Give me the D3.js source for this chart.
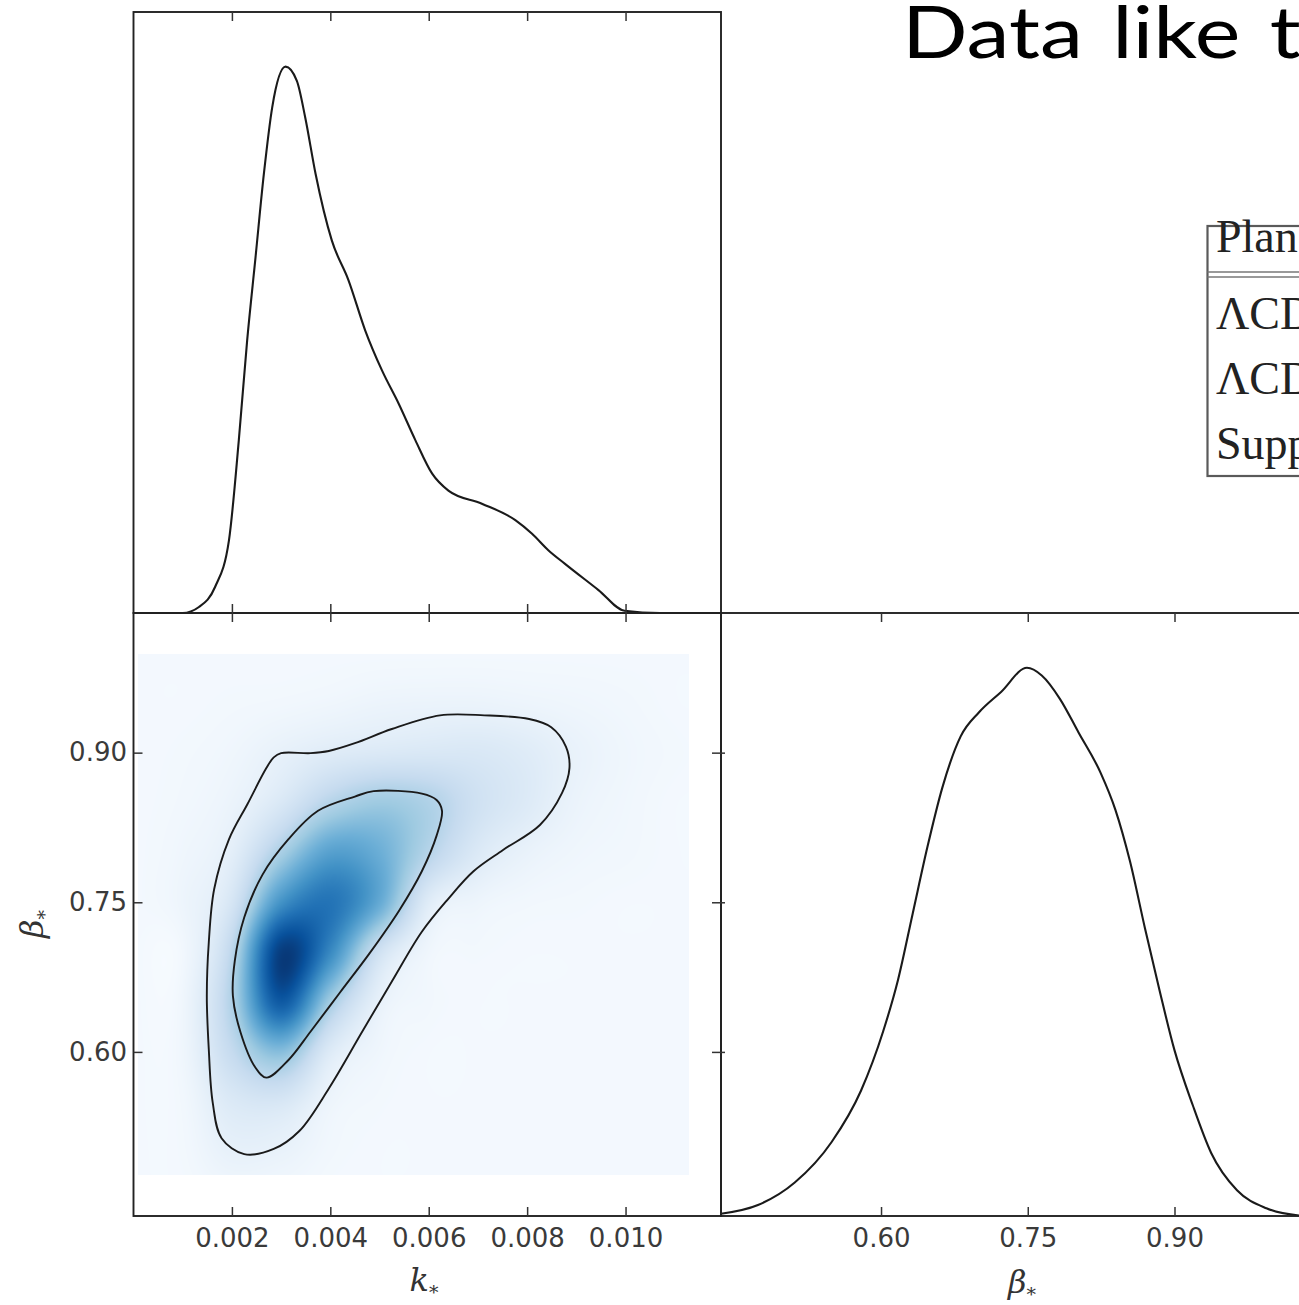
<!DOCTYPE html>
<html><head><meta charset="utf-8">
<script src="https://cdn.jsdelivr.net/npm/d3@7"></script>
<style>html,body{margin:0;padding:0;background:#fff;overflow:hidden}svg{display:block}</style>
</head><body>
<svg id="c" width="1299" height="1305"></svg>
<script>
// ---------------- data ----------------
const kTicks = [0.002, 0.004, 0.006, 0.008, 0.010];
const betaTicks = [0.60, 0.75, 0.90];
const kDomain = [0, 0.01194];
const betaDomain = [0.4355, 1.040];
const betaDomainX = [0.4364, 1.0375];

// 1D marginal of k*
const kMargK = [0, 0.0010, 0.00133, 0.00166, 0.00194, 0.00214, 0.00231, 0.00248, 0.00265, 0.00282, 0.00309, 0.00332, 0.00349, 0.00370, 0.00403, 0.00437, 0.00471, 0.00505, 0.00539, 0.00573, 0.00607, 0.00640, 0.00708, 0.00776, 0.00810, 0.00843, 0.00877, 0.00945, 0.00998, 0.0107, 0.01194];
const kMargD = [0, 0, 0.011, 0.048, 0.133, 0.316, 0.499, 0.651, 0.804, 0.926, 1.0, 0.974, 0.907, 0.804, 0.682, 0.609, 0.517, 0.444, 0.383, 0.316, 0.255, 0.224, 0.200, 0.170, 0.145, 0.115, 0.090, 0.042, 0.004, 0, 0];

// 1D marginal of beta*
const bMargB = [0.4364, 0.4742, 0.5118, 0.5495, 0.5796, 0.6022, 0.6174, 0.6324, 0.6474, 0.6626, 0.6814, 0.7002, 0.7227, 0.7492, 0.7643, 0.7830, 0.8019, 0.8246, 0.8396, 0.8545, 0.8698, 0.8848, 0.8999, 0.9187, 0.9375, 0.9639, 0.9940, 1.0273, 1.0375];
const bMargD = [0.004, 0.020, 0.061, 0.135, 0.229, 0.337, 0.431, 0.552, 0.673, 0.781, 0.875, 0.919, 0.956, 1.0, 0.986, 0.943, 0.882, 0.808, 0.741, 0.647, 0.525, 0.411, 0.303, 0.202, 0.115, 0.047, 0.014, 0.001, 0];

// 2D density grid (rows: beta, columns: k)
const gridK = [0, 0.001, 0.002, 0.003, 0.004, 0.005, 0.006, 0.007, 0.008, 0.009, 0.010, 0.011, 0.012];
const gridBeta = [0.45, 0.50, 0.55, 0.60, 0.65, 0.70, 0.75, 0.80, 0.85, 0.90, 0.95, 1.00];
const densityGrid = [
  [0.02,0.02,0.03,0.03,0.02,0.02,0.02,0.02,0.02,0.02,0.02,0.02,0.02],
  [0.02,0.025,0.08,0.07,0.03,0.02,0.02,0.02,0.02,0.02,0.02,0.02,0.02],
  [0.02,0.03,0.14,0.16,0.05,0.025,0.02,0.02,0.02,0.02,0.02,0.02,0.02],
  [0.02,0.04,0.25,0.43,0.13,0.04,0.02,0.02,0.02,0.02,0.02,0.02,0.02],
  [0.02,0.04,0.32,0.84,0.36,0.08,0.03,0.02,0.02,0.02,0.02,0.02,0.02],
  [0.02,0.03,0.28,0.95,0.66,0.20,0.04,0.025,0.02,0.02,0.02,0.02,0.02],
  [0.02,0.05,0.17,0.62,0.74,0.52,0.12,0.05,0.03,0.025,0.02,0.02,0.02],
  [0.02,0.04,0.10,0.34,0.56,0.50,0.30,0.14,0.07,0.04,0.03,0.02,0.02],
  [0.02,0.03,0.06,0.15,0.30,0.37,0.32,0.20,0.13,0.06,0.035,0.02,0.02],
  [0.02,0.025,0.04,0.08,0.12,0.14,0.15,0.15,0.12,0.07,0.04,0.025,0.02],
  [0.02,0.02,0.025,0.03,0.04,0.055,0.06,0.06,0.05,0.04,0.03,0.02,0.02],
  [0.02,0.02,0.02,0.02,0.02,0.02,0.02,0.02,0.02,0.02,0.02,0.02,0.02]
];
const heatKExtent = [0.00009, 0.01128];
const heatBetaExtent = [0.477, 0.999];

// contours (k, beta)
const outerK = [0.00300,0.00360,0.00397,0.00450,0.00525,0.00623,0.00713,0.00804,0.00849,0.00879,0.00886,0.00871,0.00826,0.00751,0.00691,0.00638,0.00586,0.00525,0.00465,0.00397,0.00337,0.00285,0.00225,0.00179,0.00161,0.00153,0.00149,0.00153,0.00164,0.00194,0.00232,0.00270,0.00285];
const outerB = [0.8995,0.8995,0.9017,0.9095,0.9237,0.9374,0.9374,0.9337,0.9255,0.9059,0.8845,0.8596,0.8275,0.8024,0.7811,0.7525,0.7204,0.6705,0.6205,0.5634,0.5207,0.5027,0.4975,0.5135,0.5492,0.6026,0.6561,0.7097,0.7633,0.8131,0.8488,0.8845,0.8953];
const innerK = [0.00450,0.00488,0.00586,0.00616,0.00627,0.00616,0.00586,0.00540,0.00480,0.00420,0.00360,0.00315,0.00270,0.00247,0.00217,0.00202,0.00206,0.00225,0.00262,0.00315,0.00375];
const innerB = [0.8560,0.8614,0.8589,0.8525,0.8417,0.8168,0.7811,0.7418,0.6990,0.6598,0.6205,0.5919,0.5742,0.5849,0.6205,0.6562,0.6918,0.7347,0.7775,0.8132,0.8417];

const blues = ["#f7fbff","#deebf7","#c6dbef","#9ecae1","#6baed6","#4292c6","#2171b5","#08519c","#08306b"];

const titleText = "Data like this";
const legendHeader = "Planck 2015 data";
const legendRows = ["ΛCDM", "ΛCDM + running", "Suppression"];

// ---------------- layout ----------------
const L = 133.5, M = 721, R = 1309, T = 12, H = 613, B = 1216;
const svg = d3.select("#c");

const xK = d3.scaleLinear().domain(kDomain).range([L, M]);
const yB = d3.scaleLinear().domain(betaDomain).range([B, H]);
const xB = d3.scaleLinear().domain(betaDomainX).range([M, R]);
const yKd = d3.scaleLinear().domain([0, 1.1]).range([H, T]);
const yBd = d3.scaleLinear().domain([0, 1.1]).range([B, H]);

// ---------------- heatmap ----------------
const color = d3.scaleLinear().domain(d3.range(blues.length).map(i => i / (blues.length - 1))).range(blues).clamp(true);
function cr(p0, p1, p2, p3, t) {
  return p1 + 0.5 * t * (p2 - p0 + t * (2 * p0 - 5 * p1 + 4 * p2 - p3 + t * (3 * (p1 - p2) + p3 - p0)));
}
function gv(i, j) {
  i = Math.max(0, Math.min(gridK.length - 1, i));
  j = Math.max(0, Math.min(gridBeta.length - 1, j));
  return densityGrid[j][i];
}
function dens(k, b) {
  const fi = (k - gridK[0]) / (gridK[1] - gridK[0]);
  const fj = (b - gridBeta[0]) / (gridBeta[1] - gridBeta[0]);
  const i = Math.floor(fi), j = Math.floor(fj), tx = fi - i, ty = fj - j;
  const rows = [];
  for (let m = -1; m <= 2; m++) rows.push(cr(gv(i - 1, j + m), gv(i, j + m), gv(i + 1, j + m), gv(i + 2, j + m), tx));
  return cr(rows[0], rows[1], rows[2], rows[3], ty);
}
const hx0 = Math.round(xK(heatKExtent[0])), hx1 = Math.round(xK(heatKExtent[1]));
const hy0 = Math.round(yB(heatBetaExtent[1])), hy1 = Math.round(yB(heatBetaExtent[0]));
const cw = hx1 - hx0, ch = hy1 - hy0;
const cv = document.createElement("canvas");
cv.width = cw; cv.height = ch;
const ctx = cv.getContext("2d");
const img = ctx.createImageData(cw, ch);
for (let py = 0; py < ch; py++) {
  const b = yB.invert(hy0 + py + 0.5);
  for (let px = 0; px < cw; px++) {
    const k = xK.invert(hx0 + px + 0.5);
    const v = Math.max(0, Math.min(1, dens(k, b)));
    const c = d3.rgb(color(v));
    const o = (py * cw + px) * 4;
    img.data[o] = c.r; img.data[o + 1] = c.g; img.data[o + 2] = c.b; img.data[o + 3] = 255;
  }
}
ctx.putImageData(img, 0, 0);
svg.append("image").attr("x", hx0).attr("y", hy0).attr("width", cw).attr("height", ch)
  .attr("href", cv.toDataURL());

// ---------------- contours ----------------
const cLine = d3.line().x(d => xK(d[0])).y(d => yB(d[1])).curve(d3.curveCatmullRomClosed.alpha(0.5));
[[outerK, outerB], [innerK, innerB]].forEach(([ks, bs]) => {
  svg.append("path").attr("d", cLine(ks.map((k, i) => [k, bs[i]])))
    .attr("fill", "none").attr("stroke", "#1a1a1a").attr("stroke-width", 1.9);
});

// ---------------- 1D marginals ----------------
svg.append("path")
  .attr("d", d3.line().x(d => xK(d[0])).y(d => yKd(d[1])).curve(d3.curveMonotoneX)(kMargK.map((k, i) => [k, kMargD[i]])))
  .attr("fill", "none").attr("stroke", "#1a1a1a").attr("stroke-width", 2.1);
svg.append("path")
  .attr("d", d3.line().x(d => xB(d[0])).y(d => yBd(d[1])).curve(d3.curveMonotoneX)(bMargB.map((b, i) => [b, bMargD[i]])))
  .attr("fill", "none").attr("stroke", "#1a1a1a").attr("stroke-width", 2.1);

// ---------------- frames ----------------
[[L, M, T, H], [L, M, H, B], [M, R, H, B]].forEach(([x0, x1, y0, y1]) => {
  svg.append("rect").attr("x", x0).attr("y", y0).attr("width", x1 - x0).attr("height", y1 - y0)
    .attr("fill", "none").attr("stroke", "#222").attr("stroke-width", 1.9);
});

// ---------------- ticks & labels ----------------
const TL = 9;
function addAxis(axis, tx, ty, labels) {
  const g = svg.append("g").attr("transform", `translate(${tx},${ty})`).call(axis);
  g.select(".domain").remove();
  g.selectAll(".tick line").attr("stroke", "#333").attr("stroke-width", 1.5);
  g.selectAll(".tick text").attr("font-family", "DejaVu Sans").attr("font-size", 26).attr("fill", "#3a3a3a");
  if (!labels) g.selectAll(".tick text").remove();
  return g;
}
const f3 = d3.format(".3f"), f2 = d3.format(".2f");
// top-left panel
addAxis(d3.axisTop(xK).tickValues(kTicks).tickSize(-TL), 0, T, false);
addAxis(d3.axisBottom(xK).tickValues(kTicks).tickSize(-TL), 0, H, false);
// lower-left panel
addAxis(d3.axisTop(xK).tickValues(kTicks).tickSize(-TL), 0, H, false);
addAxis(d3.axisBottom(xK).tickValues(kTicks).tickSize(-TL).tickPadding(13).tickFormat(f3), 0, B, true);
addAxis(d3.axisLeft(yB).tickValues(betaTicks).tickSize(-TL).tickPadding(6.5).tickFormat(f2), L, 0, true);
addAxis(d3.axisRight(yB).tickValues(betaTicks).tickSize(-TL), M, 0, false);
addAxis(d3.axisLeft(yB).tickValues(betaTicks).tickSize(-4), M, 0, false);
// lower-right panel
addAxis(d3.axisTop(xB).tickValues(betaTicks).tickSize(-TL), 0, H, false);
addAxis(d3.axisBottom(xB).tickValues(betaTicks).tickSize(-TL).tickPadding(13).tickFormat(f2), 0, B, true);

// axis titles
function mathLabel(sel, main, sub) {
  sel.attr("font-family", "DejaVu Serif").attr("font-style", "italic").attr("fill", "#333").attr("text-anchor", "middle");
  sel.append("tspan").attr("font-size", 32).text(main);
  sel.append("tspan").attr("font-size", 19).attr("dy", 8).text(sub);
}
mathLabel(svg.append("text").attr("x", 424).attr("y", 1291), "k", "*");
mathLabel(svg.append("text").attr("x", 1022).attr("y", 1293), "β", "*");
mathLabel(svg.append("text").attr("transform", `translate(43,924) rotate(-90)`), "β", "*");

// title
svg.append("text").attr("transform", "translate(902,58) scale(1.2,1)").attr("font-family", "Lato")
  .attr("font-size", 72).attr("word-spacing", 6).attr("fill", "#000").text(titleText);

// legend table
const lg = svg.append("g");
lg.append("rect").attr("x", 1207.5).attr("y", 226).attr("width", 200).attr("height", 250)
  .attr("fill", "#fff").attr("stroke", "#5a5a5a").attr("stroke-width", 2.2);
lg.append("line").attr("x1", 1207.5).attr("x2", 1400).attr("y1", 272).attr("y2", 272).attr("stroke", "#777").attr("stroke-width", 1.6);
lg.append("line").attr("x1", 1207.5).attr("x2", 1400).attr("y1", 277).attr("y2", 277).attr("stroke", "#777").attr("stroke-width", 1.6);
lg.append("text").attr("x", 1216).attr("y", 252).attr("font-family", "Liberation Serif").attr("font-size", 46).attr("fill", "#222").text(legendHeader);
legendRows.forEach((t, i) => {
  lg.append("text").attr("x", 1216).attr("y", [329, 394, 459][i]).attr("font-family", "Liberation Serif")
    .attr("font-size", 46).attr("fill", "#222").text(t);
});
</script>
</body></html>
